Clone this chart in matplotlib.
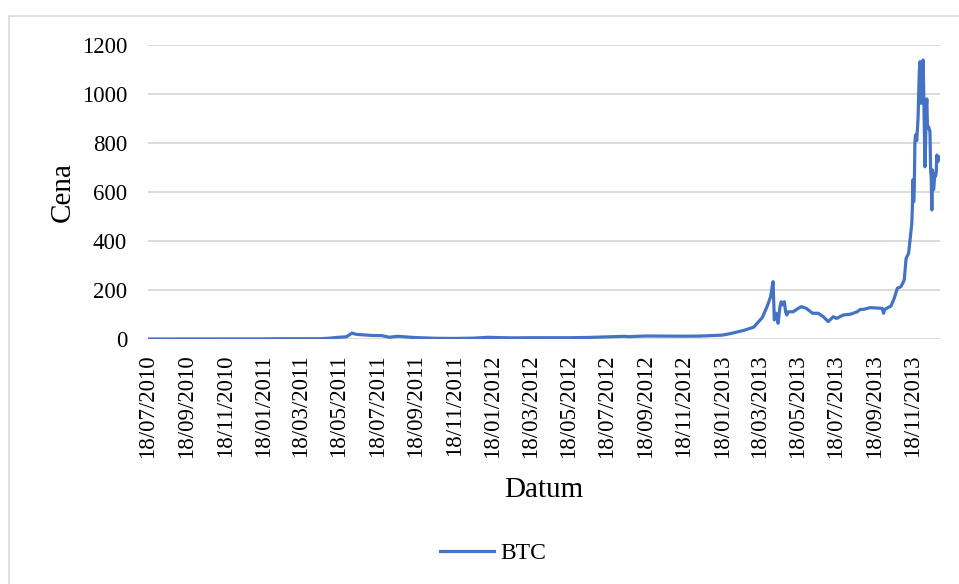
import datetime as dt

import matplotlib
matplotlib.use("Agg")
import matplotlib.dates as mdates
import matplotlib.pyplot as plt
from matplotlib.patches import Rectangle

# BTC closing price (USD)
dates = [
    "2010-07-18", "2010-08-18", "2010-09-18", "2010-10-18", "2010-11-08", "2010-11-18",
    "2010-12-18", "2011-01-18", "2011-02-10", "2011-03-18", "2011-04-18", "2011-05-01",
    "2011-05-18", "2011-05-30", "2011-06-04", "2011-06-08", "2011-06-15", "2011-06-25",
    "2011-07-10", "2011-07-25", "2011-08-02", "2011-08-06", "2011-08-20", "2011-09-10",
    "2011-09-25", "2011-10-18", "2011-11-18", "2011-12-18", "2012-01-10", "2012-01-25",
    "2012-02-18", "2012-03-18", "2012-04-18", "2012-05-18", "2012-06-18", "2012-07-18",
    "2012-08-16", "2012-08-20", "2012-09-18", "2012-10-18", "2012-11-18", "2012-12-14",
    "2013-01-18", "2013-01-31", "2013-02-21", "2013-03-09", "2013-03-23", "2013-03-31",
    "2013-04-05", "2013-04-09", "2013-04-11", "2013-04-14", "2013-04-17", "2013-04-20",
    "2013-04-22", "2013-04-24", "2013-04-27", "2013-04-29", "2013-05-01", "2013-05-03",
    "2013-05-11", "2013-05-19", "2013-05-24", "2013-06-01", "2013-06-11", "2013-06-20",
    "2013-06-28", "2013-07-06", "2013-07-14", "2013-07-19", "2013-07-30", "2013-08-10",
    "2013-08-21", "2013-08-26", "2013-08-31", "2013-09-11", "2013-09-30", "2013-10-02",
    "2013-10-04", "2013-10-14", "2013-10-19", "2013-10-24", "2013-10-30", "2013-11-04",
    "2013-11-07", "2013-11-11", "2013-11-15", "2013-11-16", "2013-11-17", "2013-11-18",
    "2013-11-19", "2013-11-20", "2013-11-21", "2013-11-22", "2013-11-24", "2013-11-26",
    "2013-11-27", "2013-11-28", "2013-11-29", "2013-11-30", "2013-12-01", "2013-12-02",
    "2013-12-03", "2013-12-04", "2013-12-05", "2013-12-06", "2013-12-07", "2013-12-08",
    "2013-12-09", "2013-12-10", "2013-12-11", "2013-12-12", "2013-12-13", "2013-12-14",
    "2013-12-15", "2013-12-16", "2013-12-17", "2013-12-18", "2013-12-19", "2013-12-20",
    "2013-12-21", "2013-12-22", "2013-12-23", "2013-12-24", "2013-12-25", "2013-12-26",
    "2013-12-27", "2013-12-28", "2013-12-29", "2013-12-30",
]
prices = [
    0.09, 0.07, 0.06, 0.10, 0.30, 0.28,
    0.24, 0.38, 1.05, 0.87, 1.15, 3.0,
    7.0, 8.8, 17, 24, 19, 17,
    14.5, 13.8, 10, 7, 11, 7,
    5, 3, 2.3, 3.5, 6.8, 6,
    4.6, 5.2, 5, 5.1, 6.3, 8.6,
    11, 9.5, 12.2, 11.7, 11.5, 12,
    15.8, 22, 35, 48, 88, 136,
    172, 234, 78, 105, 64, 132,
    152, 139, 152, 111, 98, 111,
    111, 125, 132, 125, 105, 105,
    91, 71, 91, 84, 98, 101,
    111, 121, 121, 128, 125, 105,
    121, 135, 166, 207, 214, 241,
    329, 350, 445, 470, 540, 650,
    560, 610, 800, 833, 810, 900,
    1000, 1090, 1132, 1120, 962, 1050,
    1090, 1139, 1020, 850, 703, 790,
    940, 980, 870, 860, 866, 853,
    850, 690, 660, 527, 690, 610,
    610, 650, 676, 665, 680, 751,
    724, 725, 745, 737,
]
tick_dates = ["2010-07-18", "2010-09-18", "2010-11-18", "2011-01-18", "2011-03-18",
              "2011-05-18", "2011-07-18", "2011-09-18", "2011-11-18", "2012-01-18",
              "2012-03-18", "2012-05-18", "2012-07-18", "2012-09-18", "2012-11-18",
              "2013-01-18", "2013-03-18", "2013-05-18", "2013-07-18", "2013-09-18",
              "2013-11-18"]
y_ticks = [0, 200, 400, 600, 800, 1000, 1200]

to_date = lambda s: dt.datetime.strptime(s, "%Y-%m-%d")
x = [to_date(d) for d in dates]
ticks = [to_date(d) for d in tick_dates]

plt.rcParams["font.family"] = ["Liberation Serif", "DejaVu Serif"]

fig = plt.figure(figsize=(9.59, 5.84), dpi=100)
ax = fig.add_axes([148 / 959, 1 - 339 / 584, (940 - 148) / 959, (339 - 45) / 584])

ax.plot(x, prices, color="#4472C4", linewidth=2.3, label="BTC", solid_joinstyle="round")

ax.set_xlim(to_date("2010-07-18"), to_date("2013-12-31"))
ax.set_ylim(0, 1200)
ax.set_yticks(y_ticks)
ax.set_xticks(ticks)
ax.xaxis.set_major_formatter(mdates.DateFormatter("%d/%m/%Y"))
ax.tick_params(axis="x", rotation=90, labelsize=16.5, length=0, pad=11)
ax.tick_params(axis="y", labelsize=16.5, length=0, pad=15)
ax.grid(axis="y", color="#d9d9d9", linewidth=1.3)
ax.set_axisbelow(True)
for side in ax.spines.values():
    side.set_visible(False)

ax.set_ylabel("Cena", fontsize=21, labelpad=4)
ax.set_xlabel("Datum", fontsize=21, labelpad=14)

# chart-area border, cut off at the right and bottom like the source screenshot
fig.add_artist(Rectangle((9 / 959, -0.05), 1.2, 1.05 - 16 / 584, transform=fig.transFigure,
                         fill=False, edgecolor="#d9d9d9", linewidth=1.2))

fig.legend(loc="center", bbox_to_anchor=(493 / 959, 1 - 553 / 584), frameon=False,
           fontsize=17, handlelength=2.3, handletextpad=0.25)

fig.savefig("out.png", dpi=100)
